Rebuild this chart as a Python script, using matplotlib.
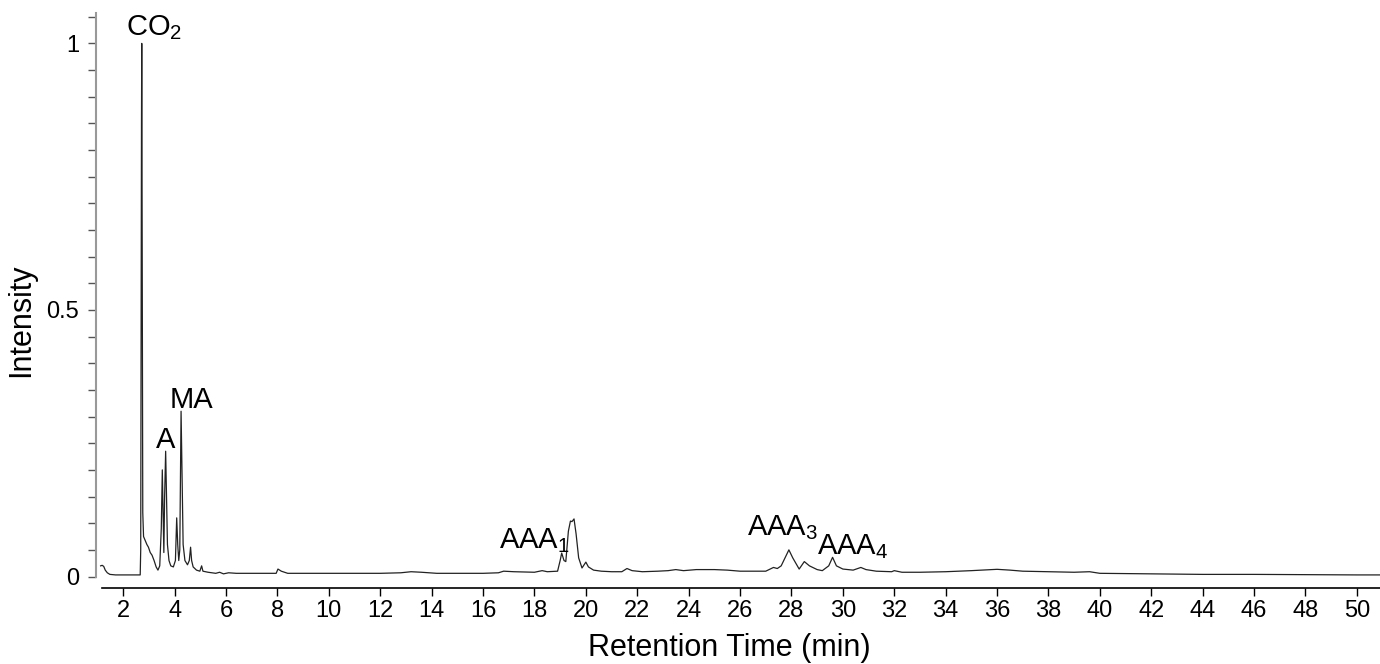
import matplotlib
matplotlib.use("Agg")
import matplotlib.pyplot as plt
from matplotlib.ticker import MultipleLocator

plt.rcParams['font.family'] = ['Liberation Sans', 'DejaVu Sans']
plt.rcParams['mathtext.fontset'] = 'custom'
plt.rcParams['mathtext.rm'] = 'Liberation Sans'
plt.rcParams['mathtext.it'] = 'Liberation Sans'

# chromatogram (retention time in min, normalised intensity)
rt = [1.12, 1.18, 1.24, 1.30, 1.38, 1.48, 1.70, 2.20, 2.66, 2.68, 2.71, 2.72, 2.74, 2.76,
      2.79, 2.85, 2.92, 2.98, 3.05, 3.12, 3.20, 3.28, 3.35, 3.42, 3.48, 3.52, 3.55, 3.58,
      3.61, 3.65, 3.68, 3.72, 3.78, 3.85, 3.95, 4.03, 4.08, 4.12, 4.16, 4.20, 4.25, 4.29,
      4.33, 4.40, 4.50, 4.57, 4.62, 4.66, 4.72, 4.85, 4.98, 5.05, 5.10, 5.30, 5.60, 5.75,
      5.90, 6.10, 6.40, 7.00, 7.50, 7.95, 8.02, 8.15, 8.40, 9.00, 10.0, 11.0, 12.0, 12.8,
      13.2, 13.6, 14.2, 15.0, 16.0, 16.6, 16.8, 17.2, 18.0, 18.3, 18.5, 18.9, 19.0, 19.06,
      19.15, 19.22, 19.32, 19.40, 19.46, 19.54, 19.62, 19.72, 19.85, 20.0, 20.1, 20.3,
      20.6, 21.0, 21.4, 21.6, 21.8, 22.2, 22.8, 23.2, 23.5, 23.8, 24.3, 25.0, 25.5, 26.0,
      26.6, 27.0, 27.3, 27.45, 27.6, 27.75, 27.9, 28.05, 28.3, 28.5, 28.7, 29.0, 29.2,
      29.45, 29.6, 29.75, 30.0, 30.4, 30.7, 30.9, 31.3, 31.9, 32.0, 32.3, 33.0, 34.0,
      35.0, 36.0, 36.5, 37.0, 38.0, 39.0, 39.6, 40.0, 42.0, 44.0, 46.0, 48.0, 50.0, 50.9]
intensity = [0.020, 0.021, 0.019, 0.012, 0.007, 0.004, 0.003, 0.003, 0.003, 0.05, 0.85, 1.00, 0.60, 0.12,
             0.075, 0.068, 0.060, 0.055, 0.045, 0.040, 0.030, 0.018, 0.012, 0.020, 0.090, 0.200, 0.120, 0.045,
             0.150, 0.235, 0.160, 0.060, 0.030, 0.020, 0.018, 0.030, 0.110, 0.060, 0.030, 0.050, 0.310, 0.180,
             0.060, 0.030, 0.022, 0.030, 0.055, 0.030, 0.018, 0.012, 0.010, 0.020, 0.010, 0.008, 0.006, 0.008,
             0.005, 0.007, 0.006, 0.006, 0.006, 0.006, 0.014, 0.010, 0.006, 0.006, 0.006, 0.006, 0.006, 0.007,
             0.009, 0.008, 0.006, 0.006, 0.006, 0.007, 0.010, 0.009, 0.008, 0.011, 0.009, 0.010, 0.030, 0.044,
             0.030, 0.028, 0.085, 0.104, 0.103, 0.108, 0.080, 0.035, 0.016, 0.027, 0.018, 0.012,
             0.010, 0.009, 0.009, 0.015, 0.011, 0.009, 0.010, 0.011, 0.013, 0.011, 0.013, 0.013, 0.012, 0.010,
             0.010, 0.010, 0.017, 0.015, 0.020, 0.035, 0.050, 0.035, 0.014, 0.028, 0.020, 0.013, 0.011,
             0.020, 0.036, 0.020, 0.014, 0.012, 0.017, 0.013, 0.010, 0.009, 0.011, 0.008, 0.008, 0.009,
             0.011, 0.0135, 0.012, 0.010, 0.009, 0.008, 0.009, 0.006, 0.005, 0.004, 0.004, 0.0035, 0.003, 0.003]

# peak labels
peak_names = [r'CO$_2$', 'A', 'MA', r'AAA$_1$', r'AAA$_3$', r'AAA$_4$']
peak_x = [3.19, 3.66, 4.67, 18.0, 27.67, 30.4]
peak_y = [1.029, 0.256, 0.331, 0.068, 0.091, 0.057]

fig = plt.figure(figsize=(13.8, 6.64), dpi=100)
ax = fig.add_axes([96 / 1380, (664 - 587.5) / 664, 1 - 96 / 1380, (587.5 - 13) / 664])

ax.plot(rt, intensity, color='#222222', lw=0.9)

for name, px, py in zip(peak_names, peak_x, peak_y):
    ax.text(px, py, name, fontsize=21, ha='center', va='center')

ax.set_xlim(0.94, 50.9)
ax.set_ylim(-0.0206, 1.057)

ax.spines['top'].set_visible(False)
ax.spines['right'].set_visible(False)
ax.spines['left'].set_bounds(0, 1.057)
ax.spines['left'].set_color('#999999')
ax.spines['left'].set_linewidth(1.5)
ax.spines['bottom'].set_bounds(1.16, 50.9)
ax.spines['bottom'].set_linewidth(1.2)

ax.set_xticks(range(2, 51, 2))
ax.set_yticks([0, 0.5, 1])
ax.set_yticklabels(['0', '0.5', '1'])
ax.yaxis.set_minor_locator(MultipleLocator(0.05))
ax.tick_params(axis='x', direction='out', length=6, width=1, labelsize=17, pad=3)
ax.tick_params(axis='y', which='both', direction='out', length=6, width=1,
               color='#555555', labelsize=17, pad=6)

ax.set_xlabel('Retention Time (min)', fontsize=22, va='center')
ax.xaxis.set_label_coords(0.493, -0.105)
ax.set_ylabel('Intensity', fontsize=22, va='center')
ax.yaxis.set_label_coords(-0.058, 0.466)

fig.savefig('out.png', dpi=100)
